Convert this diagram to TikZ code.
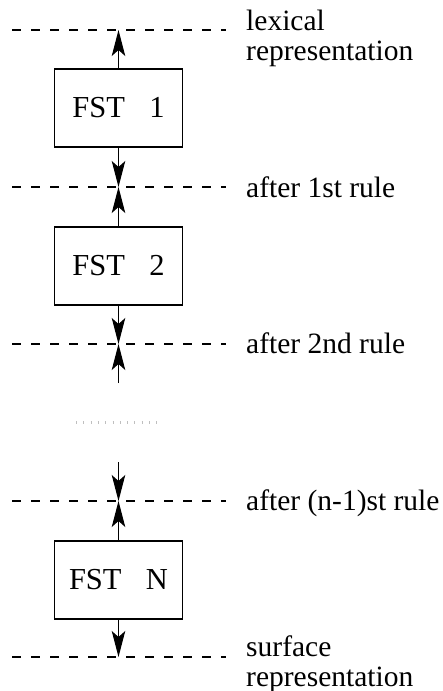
\documentclass[tikz,border=0pt]{standalone}
\usepackage{fontspec}
\setmainfont{Liberation Serif}
\usetikzlibrary{arrows.meta}
\begin{document}
\begin{tikzpicture}[x=1pt,y=-1pt,
  fstbox/.style={draw=black,line width=1.1pt,rectangle,minimum width=127.5pt,minimum height=78pt,inner sep=0pt,font=\fontsize{30.5}{30}\selectfont},
  levelline/.style={line width=1.4pt,dash pattern=on 9pt off 10pt},
  flow/.style={line width=1.1pt,-{Stealth[length=26pt,width=13.5pt,inset=6pt]}},
  lbl/.style={anchor=base west,inner sep=0pt,align=left,font=\fontsize{29.5}{30}\selectfont}]
\useasboundingbox (0,0) rectangle (442,691);
% level lines
\foreach \n/\y in {0/30,1/187,2/344,3/501,4/657}{
  \coordinate (L\n l) at (12,\y);
  \coordinate (L\n r) at (226,\y);
  \coordinate (T\n) at (118.5,\y);
  \draw[levelline] (L\n l) -- (L\n r);
}
% boxes
\node[fstbox] (f1) at (118.5,108) {FST\hspace{0.8em}1};
\node[fstbox] (f2) at (118.5,266) {FST\hspace{0.8em}2};
\node[fstbox] (fn) at (118.5,580) {FST\hspace{0.8em}N};
\coordinate (s2) at (118.5,383);
\coordinate (s3) at (118.5,462);
% arrows
\draw[flow] (f1.north) -- (T0);
\draw[flow] (f1.south) -- (T1);
\draw[flow] (f2.north) -- (T1);
\draw[flow] (f2.south) -- (T2);
\draw[flow] (s2) -- (T2);
\draw[flow] (s3) -- (T3);
\draw[flow] (fn.north) -- (T3);
\draw[flow] (fn.south) -- (T4);
% dots
\coordinate (d1) at (76,422.5);
\coordinate (d2) at (157,422.5);
\draw[black!25,line width=3pt,dash pattern=on 0.6pt off 6.7pt] (d1) -- (d2);
% labels
\node[lbl] (l0) at (246,60) {lexical\\representation};
\node[lbl] (l1) at (246,197) {after 1st rule};
\node[lbl] (l2) at (246,353) {after 2nd rule};
\node[lbl] (l3) at (246,510) {after (n-1)st rule};
\node[lbl] (l4) at (246,686) {surface\\representation};
\end{tikzpicture}
\end{document}
